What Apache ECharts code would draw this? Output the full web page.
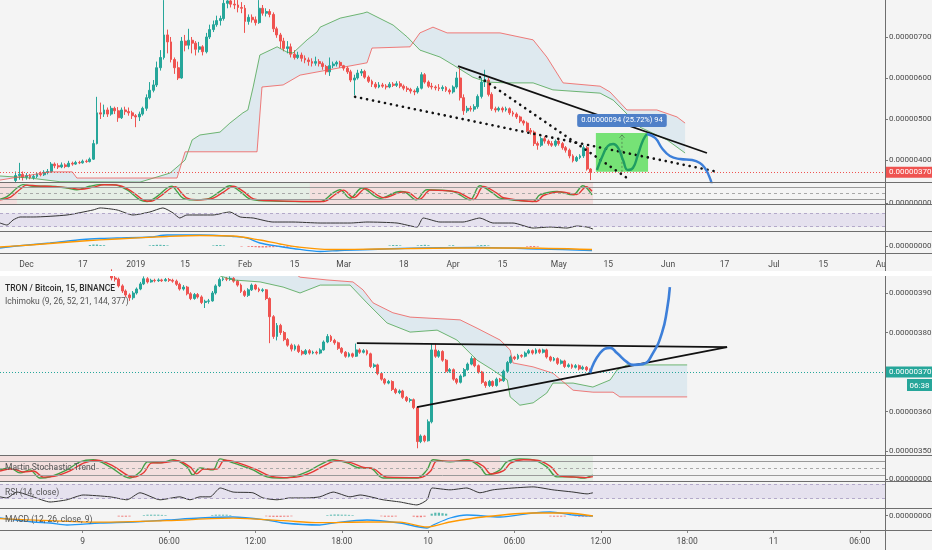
<!DOCTYPE html>
<html><head><meta charset="utf-8">
<script src="https://cdn.jsdelivr.net/npm/echarts@6/dist/echarts.min.js"></script>
<style>html,body{margin:0;padding:0;background:#f4f4f4}#c{width:932px;height:550px}</style>
</head><body><div id="c"></div>
<script>
// ---------------- DATA ----------------
// Top chart: daily candles (index 0 = 2018-11-24)
const topStartDate = '2018-11-24';
const topDayCount = 251;
const topCandleStart = 4;
const topCandles = [ // [open, close, low, high] in 1e-8 BTC
[350,362,345,372],[362,365,352,393],[365,358,350,372],[358,362,352,368],[362,357,353,366],[357,360,352,365],
[360,366,356,370],[366,364,360,372],[364,370,361,375],[370,372,365,378],[372,390,369,395],[390,386,380,394],
[386,383,378,392],[383,388,380,394],[388,384,380,392],[384,392,382,398],[392,390,386,396],[390,394,388,398],
[394,393,390,398],[393,397,391,401],[397,396,393,401],[396,402,394,406],[402,440,400,449],[440,515,438,554],
[515,512,500,540],[512,522,505,535],[522,512,505,528],[512,526,508,532],[526,520,512,530],[520,503,493,529],
[503,522,500,528],[522,518,510,530],[518,515,508,528],[515,508,500,520],[508,505,480,512],[505,512,495,518],
[512,526,508,530],[526,552,520,560],[552,570,548,590],[570,583,565,595],[583,625,578,640],[625,650,618,668],
[650,705,645,790],[705,688,660,718],[688,645,638,700],[645,625,610,650],[625,600,595,640],[600,690,598,700],
[690,680,665,705],[680,692,670,720],[692,685,660,700],[685,670,655,690],[670,676,662,688],[676,664,655,680],
[664,700,660,710],[700,718,695,730],[718,730,712,740],[730,740,725,752],[740,745,728,752],[745,782,740,795],
[782,788,770,800],[788,780,772,800],[780,778,768,795],[778,772,760,790],[772,770,758,785],[770,738,710,778],
[738,748,730,755],[748,742,735,755],[742,735,728,750],[735,770,732,790],[770,758,752,778],[758,762,750,770],
[762,755,748,768],[755,720,712,760],[720,705,698,725],[705,690,672,710],[690,672,665,698],[672,676,660,690],
[676,658,650,684],[658,650,645,668],[650,656,646,664],[656,648,640,662],[648,644,636,655],[644,640,630,650],
[640,636,628,648],[636,640,630,652],[640,635,628,646],[635,628,620,640],[628,615,608,632],[615,630,605,650],
[630,634,624,640],[634,638,628,642],[638,630,625,642],[630,624,618,632],[624,615,610,628],[615,595,590,620],
[595,600,558,608],[600,612,596,620],[612,616,605,622],[616,602,598,620],[602,592,588,606],[592,585,578,596],
[585,578,574,590],[578,583,575,590],[583,580,576,588],[580,578,572,585],[578,585,575,590],[585,582,578,590],
[582,586,578,592],[586,580,575,592],[580,575,570,584],[575,572,566,580],[572,568,562,576],[568,566,558,572],
[566,575,562,580],[575,608,572,614],[608,590,586,612],[590,580,576,594],[580,578,572,588],[578,576,570,582],
[576,574,568,585],[574,577,568,582],[577,570,566,580],[570,566,560,574],[566,578,562,582],[578,600,574,615],
[600,552,545,625],[552,520,510,560],[520,526,515,532],[526,524,518,532],[524,530,518,536],[530,555,525,560],
[555,590,550,600],[590,595,578,620],[595,560,555,600],[560,525,520,565],[525,522,516,530],[522,526,518,530],
[526,522,516,530],[522,525,518,530],[525,515,510,528],[515,512,506,520],[512,505,500,516],[505,495,490,508],
[495,490,484,498],[490,472,468,494],[472,468,462,478],[468,440,434,472],[440,436,425,445],[436,452,432,456],
[452,446,440,458],[446,440,435,450],[440,436,432,446],[436,446,432,450],[446,440,435,450],[440,430,425,444],
[430,424,418,434],[424,410,404,428],[410,398,394,414],[398,406,395,410],[406,410,402,414],[410,430,405,436],
[430,378,374,434],[378,370,351,380]
];
const topLastPrice = 370;
const topSpanA = [[-0.5,361],[8,356],[16.5,347],[39.2,346],[47.7,368],[51.1,393],[52,400],[54,449],[56.2,461],[61.9,468],[64.7,490],[68.4,515],[69.8,522],[71.3,578],[73.2,656],[78.1,676],[80.9,663],[82.6,661],[86.6,693],[89.4,712],[90.3,724],[96,746],[102.5,758],[103.6,761],[111,729],[115,700],[118.6,668],[124.3,651],[128,632],[133.6,602],[137.6,590],[143.3,588],[150.7,588],[156.3,571],[169.7,563],[173.4,546],[176.2,522],[181,480],[188.7,449],[193.8,417]];
const topSpanB = [[-0.5,351],[13.7,371],[20,371],[21.3,356],[49.7,356],[52,420],[72.4,420],[73.8,578],[79.8,583],[84.6,607],[103.6,637],[105,673],[115.8,676],[118.6,710],[122.3,724],[126.3,710],[141.3,710],[150.7,693],[154.6,651],[159.2,588],[169.7,580],[172.5,566],[177.3,522],[185.8,522],[191.5,505],[193.8,490]];
const topTrendSolid = [[129.4,629],[200,417]];
const topTrendDotsA = [[100.2,554],[203.1,371]];
const topTrendDotsB = [[135.6,602],[178.2,351]];
const measureBox = [168.5,183.3,371,466]; // from day, to day, low, high
const measureText = '0.00000094 (25.72%) 94';
const topWave = [[168.8,375.6],[170.5,412.2],[171.9,434.1],[173.4,439],[174.8,429.3],[176.2,400],[177.6,375.6],[179,380.5],[180.4,412.2],[181.9,448.8],[183,463.4]];
const topProjection = [[183,463.4],[185.3,453.7],[187.2,429.3],[189.5,409.8],[192.4,402.4],[195.8,400],[198,392.7],[199.4,380.5],[200.6,361],[201.4,341.5]];
const topStochK = [[-0.5,19],[1.5,32],[4.3,77],[6,95],[8.9,86],[13.7,86],[18.5,77],[21.3,68],[25,86],[27.9,95],[31.5,95],[35.5,68],[39.2,15],[41.2,6],[44,32],[46.9,77],[48.3,86],[49.7,59],[51.4,24],[54.2,15],[58.2,19],[61.9,59],[64.7,89],[67.6,59],[70.4,19],[75.2,10],[84.6,6],[90.3,6],[93.9,50],[95.9,68],[98.8,24],[102.2,77],[107.3,24],[113,59],[114.5,55],[117.5,15],[120.6,68],[128,59],[132.8,15],[135.6,89],[139.3,50],[141.3,24],[150.7,6],[152.6,41],[157.5,59],[162,41],[164.8,89],[167.4,41]];
const topStochD = [[-0.5,15],[2.5,30],[5.3,72],[7,92],[10,88],[14.5,84],[19.5,78],[22.3,70],[26,82],[29,94],[32.5,93],[36.5,64],[40.2,14],[42.2,8],[45,34],[47.9,76],[49.3,84],[50.7,58],[52.4,26],[55.2,16],[59.2,20],[62.9,56],[65.7,86],[68.6,58],[71.4,20],[76.2,11],[85.6,7],[91.3,7],[94.9,48],[96.9,66],[99.8,27],[103.2,74],[108.3,27],[114,57],[115.5,53],[118.5,18],[121.6,66],[129,57],[133.8,17],[136.6,85],[140.3,52],[142.3,26],[151.7,7],[153.6,38],[158.5,57],[163,43],[165.8,84],[167.4,60]];
const topStochZones = [[-0.5,4.3,'bear'],[4.3,87.4,'bull'],[87.4,167.7,'bear']];
const topRsi = [[-0.5,41],[1.5,35],[3.2,50],[5.2,59],[8.9,59],[18.5,65],[25.9,80],[27.9,86],[32.7,80],[37.2,65],[42,74],[45.7,86],[48.6,71],[50.5,56],[52.5,65],[59.9,65],[64.7,74],[67.6,59],[71.3,56],[76.9,44],[82.6,44],[90.3,41],[98.8,41],[103.6,44],[112.1,41],[117.8,29],[119.5,56],[124.3,44],[130.8,44],[135.6,56],[139.3,41],[145,41],[150.7,26],[155.5,29],[160.3,26],[163.1,32],[166,29],[167.7,23]];
const topMacd = [[-0.5,-2],[4.3,0],[13.7,3],[23,6.5],[27.9,7.5],[32.7,8],[42,9],[46.9,11],[56.2,11],[65.6,9.5],[69.6,8],[73.2,3],[78.9,-0.5],[82.6,-2.5],[90.3,-5.5],[95.9,-4.5],[113,-2.5],[135.6,-1.5],[152.6,-3],[167.4,-4.5]];
const topSignal = [[-0.5,-1],[8,1],[23,5],[32.7,7],[46.9,9.5],[56.2,10.5],[65.6,10],[73.2,6],[78.9,2],[84,-1],[93,-3.5],[107,-3],[128,-2],[147,-2],[167.4,-3.5]];
const topHist = [[25,1],[26,1.5],[27,1.5],[28,1],[29,0.8],[42,0.6],[43,1],[44,1.2],[45,1.2],[46,1],[47,0.6],[60,0.6],[61,1],[62,1],[63,0.6],[68,-0.5],[70,-0.8],[71,-1],[72,-1.2],[73,-1.5],[74,-1.5],[75,-1.5],[76,-1.2],[77,-1.2],[78,-1],[79,-1],[80,-0.8],[81,-0.8],[82,-0.6],[83,-0.5],[110,0.6],[111,1],[112,1],[113,0.6],[118,0.6],[119,1],[120,1.2],[121,0.8],[127,0.6],[128,0.8],[135,0.6],[136,1],[137,1],[138,0.6],[149,-0.6],[150,-1],[151,-1],[152,-0.6]];
const topPriceTicks = [400,500,600,700];
const topTimeTickIdx = [7,23,38,52,69,83,97,114,128,142,158,172,189,205,219,233,250];
const topTimeTickText = ['Dec','17','2019','15','Feb','15','Mar','18','Apr','15','May','15','Jun','17','Jul','15','Aug'];

// Bottom chart: 15-minute candles (index 0 = 2019-05-08 18:15)
const botStartTime = '2019-05-08T18:15:00Z';
const botBarCount = 247;
const botCandleStart = 31;
const botCandles = [
[394.6,393.8,393.2,396],[393.8,393.5,392.9,394.3],[393.5,391.8,391.4,393.9],[391.8,390.5,390,392.2],[390.5,389.5,389,390.9],
[389.5,388.8,388,389.9],[388.8,390,388.3,390.5],[390,391,389.6,391.4],[391,392.3,390.7,392.8],[392.3,393.6,392,394.2],
[393.6,392.8,392.4,394],[392.8,393.2,392.6,393.6],[393.2,393.1,392.7,393.6],[393.1,393.3,392.8,393.7],[393.3,393.1,392.8,393.6],
[393.1,393.4,392.9,393.8],[393.4,393.2,392.8,393.8],[393.2,393,392.6,393.6],[393,392.2,391.8,393.4],[392.2,391,390.6,392.6],
[391,391.5,390.6,392],[391.5,389.8,389.4,391.8],[389.8,388.6,388.2,390.2],[388.6,389.6,388.3,390],[389.6,389,388.6,390],
[389,387.6,387.2,389.4],[387.6,387.9,386.2,388.3],[387.9,388,387.3,388.5],[388,390,387.8,390.5],[390,391.8,389.6,392.2],
[391.8,393.4,391.5,393.9],[393.4,393.6,393,394],[393.6,393.5,393,394],[393.5,393.7,393.1,394.2],[393.7,393,392.6,394],
[393,392,391.6,393.3],[392,390.4,390,392.4],[390.4,389.4,389,390.8],[389.4,390.8,389,391.2],[390.8,392,390.5,392.4],
[392,391,390.7,392.3],[391,390.6,390.2,391.4],[390.6,390.8,390.2,391.2],[390.8,388.6,388.2,391],[388.6,384,377.3,388.9],
[384,379,378.4,384.4],[379,381.8,378,382.4],[381.8,380,379.4,382.2],[380,378.2,377.8,380.4],[378.2,376.8,376.4,378.6],
[376.8,375.8,375.2,377.2],[375.8,376.6,375.4,377],[376.6,375.2,374.8,377],[375.2,374.6,374.2,375.6],[374.6,375.4,374.3,375.8],
[375.4,374.8,374.4,375.8],[374.8,375,374.5,375.4],[375,374.8,374.4,375.4],[374.8,375.6,374.5,376],[375.6,377.6,375.4,378],
[377.6,379,377.3,379.6],[379,378,377.6,379.4],[378,377.4,376.9,378.4],[377.4,376,375.6,377.7],[376,375,374.6,376.3],
[375,374,373.6,375.3],[374,374.6,373.7,375],[374.6,374,373.6,374.9],[374,375.6,373.8,377.2],[375.6,375,374.6,376],
[375,375.4,374.7,375.8],[375.4,374.6,374.2,375.7],[374.6,371.4,371,374.9],[371.4,371.8,371,372.2],[371.8,369.6,369.2,372.1],
[369.6,368.2,367.8,369.9],[368.2,367.2,366.8,368.5],[367.2,367.6,366.9,368],[367.6,365.6,365.2,367.9],[365.6,364.8,364.4,366],
[364.8,365.2,364.4,365.6],[365.2,363.6,363.2,365.5],[363.6,362.8,362.4,363.9],[362.8,363,362.3,363.4],[363,361,360.6,363.3],
[361,352.4,350.7,361.3],[352.4,353.8,352,354.2],[353.8,352.6,352.2,354.1],[352.6,357.4,352.4,358],[357.4,375.6,357,377.2],
[375.6,374,373.6,377.2],[374,375.2,373.6,375.6],[375.2,373,372.6,375.5],[373,370.2,369.8,373.3],[370.2,370.6,369.8,371],
[370.6,368.2,367.8,370.9],[368.2,367.4,366.9,368.5],[367.4,369,367.1,369.4],[369,370.6,368.7,371],[370.6,372,370.3,372.4],
[372,373.4,371.7,374],[373.4,371.6,371.2,373.7],[371.6,370,369.6,371.9],[370,367.4,367,370.3],[367.4,366.6,366,367.7],
[366.6,367.6,366.2,368],[367.6,366.6,366.2,367.9],[366.6,368.2,366.3,368.6],[368.2,367.8,367.4,368.5],[367.8,370.2,367.5,370.6],
[370.2,372.4,369.9,372.8],[372.4,373.8,372.1,374.2],[373.8,373.4,373,374.1],[373.4,374.2,373.1,374.6],[374.2,374,373.6,374.5],
[374,374.8,373.7,375.2],[374.8,375.4,374.5,375.8],[375.4,374.8,374.4,375.7],[374.8,375.6,374.5,376],[375.6,375,374.6,375.9],
[375,375.6,374.7,375.9],[375.6,373.8,373.4,375.9],[373.8,373,372.6,374.1],[373,373.4,372.7,373.8],[373.4,372.2,371.8,373.7],
[372.2,372.8,371.9,373.2],[372.8,371.4,371,373.1],[371.4,371.8,371.1,372.2],[371.8,371.2,370.8,372.1],[371.2,371.6,370.9,372],
[371.6,370.8,370.4,371.9],[370.8,371.2,370.5,371.6],[371.2,370.6,370.2,371.5],[370.6,370,369.6,370.9]
];
const botLastPrice = 370;
const botSpanA = [[61.2,394.3],[64.8,393.3],[72.3,392.8],[78.7,391.5],[83.4,390],[89,392],[97.3,392],[102,387.5],[107.6,382.4],[114,380.1],[121.5,380.6],[127,378.1],[132.6,373],[137,370.5],[141,368],[141.8,363.7],[144.5,361.6],[148.2,362.2],[152,364.7],[153.7,367.2],[159.3,367.2],[164.8,366.2],[169.6,368],[171.5,370.5],[174.3,371.8],[191,371.8]];
const botSpanB = [[61.2,400],[80.6,395.8],[83.4,394],[90.9,393.3],[98.1,392.8],[100.9,390.8],[103.7,387.5],[109.2,385],[114,383.9],[127.9,383.2],[132.6,381.1],[139,378.1],[141.8,375.6],[142.6,372.3],[148.2,371.3],[153.7,369.7],[159.3,365.4],[164.8,364.9],[170.4,364.9],[172.3,363.7],[191,363.7]];
const botTrendTop = [[99.2,377.3],[202.1,376.3]];
const botTrendRise = [[115.9,361.1],[202.1,376.3]];
const botProjection = [[164,369.7],[166.8,374.8],[169.6,376.1],[171.5,374.8],[174.3,372.5],[176,371.8],[178.7,372],[181.5,374.8],[184,379.9],[185.4,385.7],[186.2,391.5]];
const botStochK = [[0,45],[2.8,53],[5.6,32],[8.3,45],[11.1,10],[13.9,15],[18.6,45],[22.2,79],[25.9,88],[30.6,58],[36.1,10],[38.9,36],[41.1,79],[44.5,75],[48.1,88],[52,58],[53.6,23],[55.6,53],[59.2,45],[61.2,92],[64.8,75],[70.3,45],[74.2,15],[77.8,10],[81.4,15],[85.3,36],[88.9,66],[92.6,88],[96.5,75],[100.1,53],[102.8,53],[106.5,10],[115.9,10],[118.7,45],[120.4,88],[125.1,79],[129.8,88],[133.4,58],[135.4,23],[139,45],[140.9,79],[144.5,92],[148.2,88],[152,58],[154.8,15],[159.3,15],[162,10],[164.8,23]];
const botStochD = [[0,40],[3.5,50],[6.5,36],[9.3,40],[12.1,14],[15,17],[19.6,42],[23.2,74],[27,86],[31.6,60],[37.1,14],[40,34],[42.1,74],[45.5,76],[49.1,84],[53,56],[54.6,28],[56.6,48],[60.2,48],[62.4,86],[66,76],[71.3,46],[75.2,18],[78.8,12],[82.4,14],[86.3,32],[90,62],[93.6,84],[97.5,76],[101.1,55],[103.8,50],[107.5,14],[116.9,12],[119.7,40],[121.4,82],[126.1,82],[130.8,84],[134.4,60],[136.4,28],[140,42],[141.9,74],[145.5,88],[149.2,86],[153,60],[155.8,18],[160.3,14],[163,12],[164.8,16]];
const botStochZones = [[0,139,'bear'],[139,164.8,'bull']];
const botRsi = [[0,35],[1.9,32],[4.7,48],[9.2,35],[13.9,21],[18.6,27],[23.1,40],[30.6,35],[35.3,27],[38.9,46],[44.5,27],[50,35],[52.8,27],[55.6,35],[58.4,35],[61.2,59],[64.8,48],[70.3,46],[73.1,32],[77,27],[80.6,32],[85.3,32],[88.9,35],[92.6,48],[97.3,35],[100.1,40],[106.5,27],[111.2,21],[115.9,13],[118.7,27],[120.1,59],[125.1,54],[129.8,59],[133.4,46],[137,54],[142.6,59],[148.2,62],[153.7,54],[159.3,48],[163.2,43],[164.8,46]];
const botMacd = [[0,-2.3],[9.2,-6.3],[13.9,-7.3],[18.6,-9.3],[27.8,-7.3],[37,-6.3],[46.4,-4.3],[55.6,-2.3],[64.8,-1.3],[74.2,-4.3],[78.7,-7.3],[88.9,-9.3],[92.6,-7.3],[102,-4.3],[111.2,-7.3],[118.7,-12.3],[120.4,-9.3],[125.1,-2.3],[129.8,0.7],[139,-1.3],[148.2,2.7],[152.9,3.7],[159.3,0.7],[164.8,-0.3]];
const botSignal = [[0,-3],[13.9,-5],[27.8,-6.5],[46.4,-5],[64.8,-2.5],[78.7,-5],[88.9,-7],[102,-6.3],[111.2,-6.5],[118.7,-11.3],[125.1,-6.3],[134.3,-1.3],[148.2,2.7],[157.6,2.7],[164.8,-0.3]];
const botHist = [[33,-0.8],[34,-1],[35,-1],[36,-0.8],[40,0.6],[41,1],[42,1],[43,1],[44,1],[45,0.8],[46,0.6],[59,0.6],[60,1],[61,1],[62,1],[63,1],[64,0.6],[74,-0.6],[75,-1],[76,-1.2],[77,-1.2],[78,-1.2],[79,-1],[80,-1],[81,-0.6],[91,0.6],[92,1],[93,1.2],[94,1.2],[95,1],[96,1],[97,0.8],[98,0.6],[106,-0.6],[107,-1],[108,-1],[109,-1],[110,-0.8],[115,-1],[116,-1.5],[117,-1.5],[118,-1],[120,2],[121,3],[122,3],[123,2.5],[124,2],[153,-0.8],[154,-1],[155,-1],[156,-1],[157,-0.8],[160,-0.6],[161,-1],[162,-1],[163,-1],[164,-0.8]];
const botPriceTicks = [350,360,370,380,390];
const botTimeTickIdx = [23,47,71,95,119,143,167,191,215,239];
const botTimeTickText = ['9','06:00','12:00','18:00','10','06:00','12:00','18:00','11','06:00'];

const titleText = 'TRON / Bitcoin, 15, BINANCE';
const ichimokuText = 'Ichimoku (9, 26, 52, 21, 144, 377)';
const stochText = 'Martin Stochastic Trend';
const rsiText = 'RSI (14, close)';
const macdText = 'MACD (12, 26, close, 9)';
const countdownText = '06:38';

// categories (dates) for reference
const topDates = [];
for (let i = 0; i < topDayCount; i++) topDates.push(new Date(Date.parse(topStartDate) + i * 864e5).toISOString().slice(0, 10));
const botTimes = [];
for (let i = 0; i < botBarCount; i++) botTimes.push(new Date(Date.parse(botStartTime) + i * 9e5).toISOString().slice(0, 16));

// ---------------- STYLE / LAYOUT ----------------
const FONT = "Roboto, 'Liberation Sans', sans-serif";
const BG = '#f4f4f4';
const UP = '#26a69a', DN = '#ef5350';
const W = 885;
const fmtPrice = v => (v / 1e8).toFixed(8);

const grids = [
  [0, 182], [182, 22], [204, 27], [231, 22],
  [276, 179], [455, 26], [481, 27], [508, 22]
].map(g => ({ left: 0, width: W, top: g[0], height: g[1], outerBoundsMode: 'none', containLabel: false }));

const yRanges = [[346.3, 790.2], [-6.4, 108.5], [17.2, 97.8], [-7, 15], [349.0, 394.3], [-2.6, 108.6], [4.7, 78], [-14.3, 7.7]];
const yLabels = [topPriceTicks, [0], [], [0], botPriceTicks, [6], [], [0]];

const xAxes = grids.map((g, i) => {
  const top = i < 4;
  const ax = {
    type: 'value', gridIndex: i, position: 'bottom', min: top ? -0.5 : 0, max: top ? topDayCount - 0.5 : botBarCount - 1,
    axisLine: { show: false, onZero: false }, splitLine: { show: false }, axisTick: { show: false }, axisLabel: { show: false }
  };
  if (i === 3 || i === 7) {
    const idx = top ? topTimeTickIdx : botTimeTickIdx, txt = top ? topTimeTickText : botTimeTickText;
    ax.axisLabel = { show: true, customValues: idx, formatter: v => { const k = idx.indexOf(Math.round(v)); return k >= 0 ? txt[k] : ''; },
      color: '#4a4a4a', fontSize: 8.5, fontFamily: FONT, margin: 7 };
    ax.axisTick = { show: !top, customValues: idx, length: 3, lineStyle: { color: '#888' } };
  }
  return ax;
});
const yAxes = grids.map((g, i) => ({
  type: 'value', gridIndex: i, position: 'right', min: yRanges[i][0], max: yRanges[i][1],
  axisLine: { show: false, onZero: false }, splitLine: { show: false },
  axisTick: { show: yLabels[i].length > 0, customValues: yLabels[i], length: 3, lineStyle: { color: '#777' } },
  axisLabel: { show: yLabels[i].length > 0, customValues: yLabels[i], formatter: v => (i === 0 || i === 4) ? fmtPrice(v) : '0.00000000',
    color: '#4a4a4a', fontSize: 8, fontFamily: FONT, margin: 4 }
}));

function line(g, data, color, width, extra) {
  return Object.assign({ type: 'line', xAxisIndex: g, yAxisIndex: g, data: data, symbol: 'none', showSymbol: false,
    silent: true, animation: false, lineStyle: { color: color, width: width }, z: 4 }, extra || {});
}
function cloud(g, A, B) {
  return { type: 'custom', xAxisIndex: g, yAxisIndex: g, clip: true, silent: true, z: 1, data: [A[0]],
    renderItem: (p, api) => ({ type: 'polygon',
      shape: { points: A.map(q => api.coord(q)).concat(B.slice().reverse().map(q => api.coord(q))) },
      style: { fill: 'rgba(110,175,215,0.17)' } }) };
}
function candles(g, arr, start, lastPrice, tagColor) {
  return { type: 'candlestick', xAxisIndex: g, yAxisIndex: g, barWidth: 2.4, encode: { x: 0, y: [1, 2, 3, 4] },
    data: arr.map((c, k) => [start + k, c[0], c[1], c[2], c[3]]), silent: true, z: 3,
    itemStyle: { color: UP, color0: DN, borderColor: UP, borderColor0: DN, borderWidth: 1 },
    markLine: { silent: true, symbol: ['none', 'none'], animation: false,
      data: [{ yAxis: lastPrice, lineStyle: { color: tagColor, type: [1, 2], width: 1 },
        label: { show: true, position: 'end', formatter: fmtPrice(lastPrice), color: '#fff', backgroundColor: tagColor,
          padding: [2, 3, 1, 3], fontSize: 8, fontFamily: FONT, distance: 1 } }] } };
}
function zones(g, list) {
  return { type: 'custom', xAxisIndex: g, yAxisIndex: g, clip: true, silent: true, z: 0,
    data: list.map(z => [z[0], z[1]]),
    renderItem: (p, api) => {
      const a = api.coord([api.value(0), 0]), b = api.coord([api.value(1), 0]);
      const cs = p.coordSys;
      return { type: 'rect', shape: { x: a[0], y: cs.y, width: b[0] - a[0], height: cs.height },
        style: { fill: list[p.dataIndex][2] === 'bear' ? 'rgba(239,83,80,0.13)' : 'rgba(76,175,80,0.09)' } };
    } };
}
function stochLines(g, K, D) {
  return [
    line(g, K, '#43a047', 1.4, { smooth: 0.35, markLine: { silent: true, symbol: ['none', 'none'], label: { show: false }, animation: false,
      data: [{ yAxis: 80, lineStyle: { color: '#9a9a9a', type: 'solid', width: 1 } },
             { yAxis: 50, lineStyle: { color: '#a8a8a8', type: [3, 3], width: 1 } },
             { yAxis: 20, lineStyle: { color: '#9a9a9a', type: 'solid', width: 1 } }] } }),
    line(g, D, '#e53935', 1.4, { smooth: 0.35 })
  ];
}
function rsiLine(g, data) {
  return line(g, data, '#333', 1, { smooth: 0.2,
    markArea: { silent: true, itemStyle: { color: 'rgba(126,87,194,0.12)' }, data: [[{ yAxis: 70 }, { yAxis: 30 }]] },
    markLine: { silent: true, symbol: ['none', 'none'], label: { show: false }, animation: false,
      lineStyle: { color: '#b3a9c9', type: [3, 3], width: 1 }, data: [{ yAxis: 70 }, { yAxis: 30 }] } });
}
function macd(g, M, S, H) {
  return [
    { type: 'bar', xAxisIndex: g, yAxisIndex: g, data: H, barWidth: 2.2, silent: true, z: 2, animation: false,
      itemStyle: { color: p => p.value[1] >= 0 ? 'rgba(38,166,154,0.75)' : 'rgba(239,83,80,0.75)' } },
    line(g, M, '#2196f3', 1.3, { smooth: 0.3 }),
    line(g, S, '#ff9800', 1.3, { smooth: 0.3 })
  ];
}
const dots = { color: '#111', width: 2.6, type: [0.1, 6], cap: 'round' };

const series = [
  // ---- top main
  cloud(0, topSpanA, topSpanB),
  line(0, topSpanA, 'rgba(67,160,71,0.75)', 1),
  line(0, topSpanB, 'rgba(239,83,80,0.75)', 1),
  { type: 'custom', xAxisIndex: 0, yAxisIndex: 0, clip: true, silent: true, z: 2, data: [[measureBox[0], measureBox[2]]],
    renderItem: (p, api) => {
      const a = api.coord([measureBox[0], measureBox[3]]), b = api.coord([measureBox[1], measureBox[2]]);
      const xm = (a[0] + b[0]) / 2;
      return { type: 'group', children: [
        { type: 'rect', shape: { x: a[0], y: a[1], width: b[0] - a[0], height: b[1] - a[1] }, style: { fill: '#76e276' } },
        { type: 'line', shape: { x1: xm, y1: b[1], x2: xm, y2: a[1] + 2 }, style: { stroke: '#4f7a4f', lineWidth: 0.8, lineDash: [2, 2] } },
        { type: 'polyline', shape: { points: [[xm - 2.5, a[1] + 5], [xm, a[1] + 2], [xm + 2.5, a[1] + 5]] }, style: { stroke: '#4f7a4f', lineWidth: 0.8, fill: null } }
      ] };
    } },
  candles(0, topCandles, topCandleStart, topLastPrice, '#ef5350'),
  line(0, topTrendSolid, '#111', 1.8, { z: 6 }),
  line(0, topTrendDotsA, null, 0, { lineStyle: dots, z: 6 }),
  line(0, topTrendDotsB, null, 0, { lineStyle: dots, z: 6 }),
  line(0, topWave, '#1f9d62', 2.4, { smooth: 0.5, z: 7 }),
  line(0, topProjection, '#3d7fd9', 2.4, { smooth: 0.5, z: 7 }),
  { type: 'custom', xAxisIndex: 0, yAxisIndex: 0, clip: false, silent: true, z: 9, data: [[measureBox[0], measureBox[3]]],
    renderItem: (p, api) => {
      const a = api.coord([measureBox[0], measureBox[3]]), b = api.coord([measureBox[1], measureBox[2]]);
      return { type: 'text', x: (a[0] + b[0]) / 2, y: a[1] - 12.5,
        style: { text: measureText, fill: '#fff', backgroundColor: '#4f80c8', padding: [3, 4, 2, 4], borderRadius: 2,
          align: 'center', verticalAlign: 'middle', fontSize: 7.5, fontFamily: FONT } };
    } },
  // ---- top panes
  zones(1, topStochZones),
  ...stochLines(1, topStochK, topStochD),
  rsiLine(2, topRsi),
  ...macd(3, topMacd, topSignal, topHist),
  // ---- bottom main
  cloud(4, botSpanA, botSpanB),
  line(4, botSpanA, 'rgba(67,160,71,0.75)', 1),
  line(4, botSpanB, 'rgba(239,83,80,0.75)', 1),
  candles(4, botCandles, botCandleStart, botLastPrice, '#26a69a'),
  line(4, botTrendTop, '#111', 1.8, { z: 6 }),
  line(4, botTrendRise, '#111', 1.8, { z: 6 }),
  line(4, botProjection, '#3d7fd9', 2.6, { smooth: 0.5, z: 7 }),
  // ---- bottom panes
  zones(5, botStochZones),
  ...stochLines(5, botStochK, botStochD),
  rsiLine(6, botRsi),
  ...macd(7, botMacd, botSignal, botHist)
];

const sepColor = '#6e6e6e';
const seps = [182, 204, 231, 253, 455, 481, 508, 530].map(y => ({ type: 'line', z: 100, silent: true,
  shape: { x1: 0, y1: y + 0.5, x2: 932, y2: y + 0.5 }, style: { stroke: sepColor, lineWidth: 1.2 } }));
const txt = (t, x, y, size, color, weight) => ({ type: 'text', z: 100, silent: true, x: x, y: y,
  style: { text: t, fill: color, fontSize: size, fontFamily: FONT, fontWeight: weight || 'normal', verticalAlign: 'middle' } });

const graphic = [
  { type: 'rect', z: 99, silent: true, shape: { x: 886, y: 254, width: 46, height: 17 }, style: { fill: BG } },
  { type: 'rect', z: 99, silent: true, shape: { x: 886, y: 531, width: 46, height: 19 }, style: { fill: BG } },
  { type: 'rect', z: 99, silent: true, shape: { x: 886, y: 205, width: 46, height: 8 }, style: { fill: BG } },
  { type: 'rect', z: 99, silent: true, shape: { x: 886, y: 482, width: 46, height: 8 }, style: { fill: BG } },
  { type: 'rect', z: 100, silent: true, shape: { x: 0, y: 271, width: 932, height: 5 }, style: { fill: '#ffffff' } },
  ...seps,
  { type: 'line', z: 100, silent: true, shape: { x1: 885.5, y1: 0, x2: 885.5, y2: 271 }, style: { stroke: '#6e6e6e', lineWidth: 1 } },
  { type: 'line', z: 100, silent: true, shape: { x1: 885.5, y1: 276, x2: 885.5, y2: 550 }, style: { stroke: '#6e6e6e', lineWidth: 1 } },
  { type: 'rect', z: 100, silent: true, shape: { x: 907, y: 379, width: 25, height: 12 }, style: { fill: '#26a69a' } },
  txt(countdownText, 909.5, 385.5, 8, '#fff'),
  txt(titleText, 5, 289, 8.5, '#2b2b2b', 500),
  txt(ichimokuText, 5, 302, 8.5, '#555'),
  txt(stochText, 5, 468, 8.5, '#555'),
  txt(rsiText, 5, 493, 8.5, '#555'),
  txt(macdText, 5, 520, 8.5, '#555')
];

const chart = echarts.init(document.getElementById('c'), null, { renderer: 'canvas' });
chart.setOption({
  animation: false, backgroundColor: BG, textStyle: { fontFamily: FONT },
  grid: grids, xAxis: xAxes, yAxis: yAxes, series: series, graphic: graphic
});
</script></body></html>
